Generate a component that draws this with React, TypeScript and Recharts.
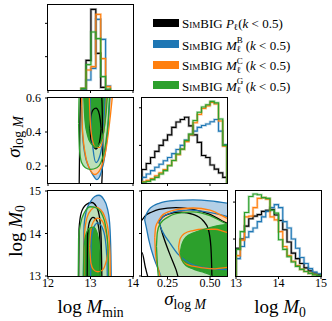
import { ComposedChart, Area, Line, XAxis, YAxis } from "recharts";

const SERIF = '"Liberation Serif", "DejaVu Serif", serif';
const BLACK = "#000000";
const BLUE = "#1f77b4";
const ORANGE = "#ff7f0e";
const GREEN = "#2ca02c";
const BLUE_LIGHT = "#b3cfe6";
const ORANGE_LIGHT = "#ffd0a8";
const GREEN_LIGHT = "#bde0b9";

// grid of panels (px)
const S = 85;
const COLS = [48, 142, 236];
const ROWS = [5, 98, 191];
const ML = 40;
const MT = 8;
const MR = 14;
const MB = 24;

// ticks
const mminTicks = [12, 13, 14];
const sigmaTicks = [0.25, 0.5];
const sigmaYTicks = [0.2, 0.4, 0.6];
const m0Ticks = [13, 14, 15];
const histTicks = [1, 2];

// 1D histograms: log Mmin
const mminEdges = [12.78, 12.895, 13.01, 13.125, 13.24, 13.355, 13.47];
const mminBlack = [0, 0.89, 2.42, 1.1, 0.08, 0];
const mminBlue = [0.02, 0.3, 0.65, 2.12, 1.52, 0.12];
const mminOrange = [0.05, 0.6, 0.7, 2.27, 0.94, 0.1];
const mminGreen = [0.05, 0.76, 1.74, 1.54, 0.4, 0.03];

// 1D histograms: sigma_logM
const sigmaEdges = [0.1, 0.125, 0.15, 0.175, 0.2, 0.225, 0.25, 0.275, 0.3, 0.325, 0.35, 0.375, 0.4, 0.425, 0.45, 0.475, 0.5, 0.525, 0.55, 0.575, 0.6];
const sigmaBlack = [0.36, 0.52, 0.68, 0.84, 1.0, 1.14, 1.28, 1.48, 1.62, 1.69, 1.75, 1.52, 1.28, 1.08, 0.73, 0.68, 0.48, 0.37, 0.27, 0.15];
const sigmaBlue = [0.15, 0.24, 0.33, 0.42, 0.5, 0.59, 0.68, 0.78, 0.89, 1.0, 1.14, 1.28, 1.38, 1.48, 1.53, 1.57, 1.63, 1.69, 1.38, 1.02];
const sigmaOrange = [0.04, 0.07, 0.12, 0.19, 0.27, 0.36, 0.47, 0.6, 0.75, 0.9, 1.1, 1.28, 1.6, 1.82, 1.98, 2.05, 2.14, 2.1, 1.65, 0.98];
const sigmaGreen = [0.02, 0.04, 0.09, 0.15, 0.24, 0.33, 0.46, 0.6, 0.77, 0.9, 1.13, 1.3, 1.66, 1.88, 2.02, 2.08, 2.17, 2.13, 1.7, 1.0];

// 1D histograms: log M0
const m0Edges = [13, 13.1, 13.2, 13.3, 13.4, 13.5, 13.6, 13.7, 13.8, 13.9, 14, 14.1, 14.2, 14.3, 14.4, 14.5, 14.6, 14.7, 14.8, 14.9, 15];
const m0Black = [0.75, 1.0, 1.35, 1.55, 1.62, 1.66, 1.75, 1.78, 1.8, 1.65, 1.5, 1.25, 0.92, 0.62, 0.47, 0.34, 0.22, 0.14, 0.08, 0.04];
const m0Blue = [0.47, 0.8, 1.05, 1.2, 1.3, 1.47, 1.6, 1.75, 1.85, 1.93, 1.85, 1.47, 1.3, 1.0, 0.75, 0.5, 0.34, 0.2, 0.11, 0.06];
const m0Orange = [0.55, 0.97, 1.6, 1.62, 1.85, 2.1, 2.12, 2.08, 1.6, 1.52, 1.2, 0.8, 0.55, 0.4, 0.28, 0.18, 0.12, 0.07, 0.04, 0.01];
const m0Green = [0.72, 1.2, 1.72, 2.15, 2.22, 2.2, 2.12, 2.1, 1.78, 1.7, 0.98, 0.72, 0.52, 0.38, 0.26, 0.18, 0.12, 0.07, 0.03, 0.01];

type Pt = [number, number, number]; // x, low edge, high edge

// contours: sigma_logM vs log Mmin
const sigMminBlackOuter: Pt[] = [[12.73, 0.0, 0.0], [12.75, 0.0, 0.45], [12.79, 0.0, 0.7], [12.9, 0.0, 0.7], [13.1, 0.0, 0.7], [13.22, 0.0, 0.7], [13.27, 0.12, 0.58], [13.29, 0.3, 0.3]];
const sigMminBlackInner: Pt[] = [[12.99, 0.42, 0.42], [13.01, 0.36, 0.49], [13.06, 0.32, 0.53], [13.13, 0.3, 0.54], [13.19, 0.32, 0.52], [13.23, 0.37, 0.47], [13.25, 0.42, 0.42]];
const sigMminBlueOuter: Pt[] = [[12.79, 0.55, 0.55], [12.81, 0.4, 0.7], [12.86, 0.28, 0.7], [12.95, 0.2, 0.7], [13.05, 0.15, 0.7], [13.15, 0.12, 0.7], [13.25, 0.16, 0.7], [13.35, 0.28, 0.7], [13.42, 0.45, 0.7], [13.46, 0.62, 0.62]];
const sigMminBlueInner: Pt[] = [[12.99, 0.62, 0.62], [13.01, 0.45, 0.7], [13.06, 0.3, 0.7], [13.13, 0.22, 0.7], [13.22, 0.26, 0.7], [13.3, 0.38, 0.7], [13.35, 0.62, 0.62]];
const sigMminOrangeOuter: Pt[] = [[12.79, 0.62, 0.62], [12.81, 0.42, 0.7], [12.87, 0.28, 0.7], [12.97, 0.19, 0.7], [13.1, 0.15, 0.7], [13.25, 0.19, 0.7], [13.38, 0.32, 0.7], [13.47, 0.5, 0.7], [13.52, 0.62, 0.62]];
const sigMminOrangeInner: Pt[] = [[12.97, 0.62, 0.62], [12.99, 0.48, 0.7], [13.04, 0.36, 0.7], [13.12, 0.31, 0.7], [13.22, 0.31, 0.7], [13.31, 0.4, 0.7], [13.36, 0.52, 0.7], [13.38, 0.62, 0.62]];
const sigMminGreenOuter: Pt[] = [[12.72, 0.45, 0.45], [12.74, 0.3, 0.7], [12.79, 0.22, 0.7], [12.88, 0.19, 0.7], [13.0, 0.18, 0.7], [13.15, 0.19, 0.7], [13.26, 0.23, 0.7], [13.35, 0.32, 0.7], [13.42, 0.48, 0.7], [13.45, 0.62, 0.62]];
const sigMminGreenInner: Pt[] = [[12.84, 0.62, 0.62], [12.87, 0.47, 0.7], [12.93, 0.38, 0.7], [13.02, 0.33, 0.7], [13.12, 0.31, 0.7], [13.22, 0.33, 0.7], [13.31, 0.4, 0.7], [13.37, 0.52, 0.7], [13.4, 0.62, 0.62]];

// contours: log M0 vs log Mmin
const m0MminBlackOuter: Pt[] = [[12.72, 12.8, 12.8], [12.73, 12.8, 14.1], [12.78, 12.8, 14.48], [12.9, 12.8, 14.68], [13.03, 12.8, 14.73], [13.14, 12.8, 14.63], [13.21, 12.8, 14.4], [13.25, 12.8, 13.9], [13.27, 12.8, 12.8]];
const m0MminBlackInner: Pt[] = [[12.92, 12.8, 12.8], [12.93, 12.8, 13.95], [12.98, 12.8, 14.28], [13.06, 12.8, 14.38], [13.15, 12.8, 14.3], [13.21, 12.8, 14.0], [13.23, 12.8, 13.5], [13.24, 12.8, 12.8]];
const m0MminBlueOuter: Pt[] = [[12.83, 12.8, 12.8], [12.85, 12.8, 14.2], [12.9, 12.8, 14.52], [13.0, 12.8, 14.75], [13.1, 12.8, 14.87], [13.2, 12.8, 14.9], [13.3, 12.8, 14.82], [13.4, 12.8, 14.58], [13.45, 12.8, 14.25], [13.48, 12.8, 13.5], [13.49, 12.8, 12.8]];
const m0MminBlueInner: Pt[] = [[13.0, 12.8, 12.8], [13.02, 12.8, 13.9], [13.08, 12.8, 14.15], [13.17, 12.8, 14.25], [13.27, 12.8, 14.15], [13.35, 12.8, 13.85], [13.39, 12.8, 13.3], [13.4, 12.8, 12.8]];
const m0MminOrangeOuter: Pt[] = [[12.84, 12.8, 12.8], [12.86, 12.8, 14.0], [12.92, 12.8, 14.38], [13.02, 12.8, 14.56], [13.12, 12.8, 14.62], [13.24, 12.8, 14.56], [13.34, 12.8, 14.38], [13.42, 12.8, 14.05], [13.46, 12.8, 13.5], [13.47, 12.8, 12.8]];
const m0MminOrangeInner: Pt[] = [[12.98, 13.7, 13.7], [13.01, 13.3, 14.1], [13.07, 13.15, 14.28], [13.17, 13.1, 14.36], [13.27, 13.13, 14.3], [13.35, 13.28, 14.08], [13.4, 13.5, 13.8], [13.41, 13.65, 13.65]];
const m0MminGreenOuter: Pt[] = [[12.71, 12.8, 12.8], [12.72, 12.8, 13.9], [12.77, 12.8, 14.25], [12.86, 12.8, 14.5], [13.0, 12.8, 14.63], [13.14, 12.8, 14.6], [13.27, 12.8, 14.45], [13.36, 12.8, 14.15], [13.41, 12.8, 13.7], [13.43, 12.8, 12.8]];
const m0MminGreenInner: Pt[] = [[12.83, 12.8, 12.8], [12.85, 12.8, 13.7], [12.9, 12.8, 14.0], [12.98, 12.8, 14.13], [13.07, 12.8, 14.15], [13.16, 12.8, 14.0], [13.22, 12.8, 13.6], [13.24, 12.8, 12.8]];

// contours: log M0 vs sigma_logM
const m0SigBlackOuter: Pt[] = [[0.08, 13.55, 14.28], [0.1, 13.55, 14.32], [0.12, 13.2, 14.42], [0.155, 12.8, 14.5], [0.2, 12.8, 14.57], [0.3, 12.8, 14.61], [0.4, 12.8, 14.57], [0.5, 12.8, 14.45], [0.57, 12.8, 14.3], [0.62, 12.8, 14.2]];
const m0SigBlackInner: Pt[] = [[0.2, 14.28, 14.28], [0.22, 14.0, 14.38], [0.26, 13.55, 14.46], [0.3, 13.15, 14.5], [0.33, 12.8, 14.5], [0.4, 12.8, 14.45], [0.46, 12.8, 14.3], [0.49, 12.8, 14.1], [0.505, 12.8, 13.7], [0.51, 12.8, 13.2], [0.512, 12.8, 12.8]];
const m0SigBlueOuter: Pt[] = [[0.115, 14.33, 14.33], [0.125, 14.15, 14.45], [0.14, 13.85, 14.56], [0.17, 13.42, 14.66], [0.2, 13.12, 14.71], [0.235, 12.8, 14.75], [0.3, 12.8, 14.78], [0.4, 12.8, 14.79], [0.5, 12.8, 14.77], [0.62, 12.8, 14.7]];
const m0SigBlueInner: Pt[] = [[0.2, 14.25, 14.25], [0.22, 14.05, 14.38], [0.26, 13.8, 14.47], [0.31, 13.52, 14.53], [0.38, 13.3, 14.55], [0.46, 13.2, 14.52], [0.54, 13.16, 14.46], [0.62, 13.15, 14.38]];
const m0SigOrangeOuter: Pt[] = [[0.175, 13.9, 13.9], [0.18, 13.5, 14.15], [0.2, 13.1, 14.32], [0.225, 12.8, 14.45], [0.3, 12.8, 14.56], [0.4, 12.8, 14.6], [0.5, 12.8, 14.55], [0.57, 12.8, 14.42], [0.62, 12.8, 14.32]];
const m0SigOrangeInner: Pt[] = [[0.315, 13.68, 13.68], [0.325, 13.45, 13.88], [0.35, 13.3, 14.0], [0.4, 13.23, 14.07], [0.46, 13.19, 14.1], [0.53, 13.17, 14.1], [0.58, 13.19, 14.05], [0.62, 13.22, 14.0]];
const m0SigGreenOuter: Pt[] = [[0.185, 13.7, 13.7], [0.19, 13.3, 14.02], [0.205, 12.8, 14.22], [0.25, 12.8, 14.38], [0.3, 12.8, 14.47], [0.4, 12.8, 14.51], [0.5, 12.8, 14.42], [0.57, 12.8, 14.28], [0.62, 12.8, 14.18]];
const m0SigGreenInner: Pt[] = [[0.325, 13.55, 13.55], [0.335, 13.38, 13.75], [0.36, 13.24, 13.92], [0.4, 13.17, 14.01], [0.45, 13.1, 14.08], [0.5, 13.03, 14.14], [0.54, 12.8, 14.18], [0.62, 12.8, 14.22]];

function contourRows(series: Record<string, Pt[]>) {
  const xs = Array.from(new Set(Object.values(series).flatMap((c) => c.map((p) => p[0])))).sort((a, b) => a - b);
  return xs.map((x) => {
    const row: Record<string, unknown> = { x };
    Object.entries(series).forEach(([k, c]) => {
      const p = c.find((q) => q[0] === x);
      row[k] = p ? [p[1], p[2]] : null;
    });
    return row;
  });
}

function histRows(edges: number[], series: Record<string, number[]>) {
  const keys = Object.keys(series);
  const n = edges.length - 1;
  const row = (x: number, f: (k: string) => number) =>
    Object.fromEntries([["x", x], ...keys.map((k) => [k, f(k)])]);
  return [
    row(edges[0], () => 0),
    ...edges.slice(0, n).map((e, i) => row(e, (k) => series[k][i])),
    row(edges[n], (k) => series[k][n - 1]),
    row(edges[n], () => 0),
  ];
}

const mminHist = histRows(mminEdges, { k: mminBlack, b: mminBlue, o: mminOrange, g: mminGreen });
const sigmaHist = histRows(sigmaEdges, { k: sigmaBlack, b: sigmaBlue, o: sigmaOrange, g: sigmaGreen });
const m0Hist = histRows(m0Edges, { k: m0Black, b: m0Blue, o: m0Orange, g: m0Green });

const sigMminData = contourRows({
  ko: sigMminBlackOuter, ki: sigMminBlackInner, bo: sigMminBlueOuter, bi: sigMminBlueInner,
  oo: sigMminOrangeOuter, oi: sigMminOrangeInner, go: sigMminGreenOuter, gi: sigMminGreenInner,
});
const m0MminData = contourRows({
  ko: m0MminBlackOuter, ki: m0MminBlackInner, bo: m0MminBlueOuter, bi: m0MminBlueInner,
  oo: m0MminOrangeOuter, oi: m0MminOrangeInner, go: m0MminGreenOuter, gi: m0MminGreenInner,
});
const m0SigData = contourRows({
  ko: m0SigBlackOuter, ki: m0SigBlackInner, bo: m0SigBlueOuter, bi: m0SigBlueInner,
  oo: m0SigOrangeOuter, oi: m0SigOrangeInner, go: m0SigGreenOuter, gi: m0SigGreenInner,
});

const contourFill = (key: string, color: string) => (
  <Area key={`f-${key}`} dataKey={key} type="monotone" fill={color} fillOpacity={1} stroke="none"
    connectNulls dot={false} activeDot={false} isAnimationActive={false} />
);
const contourLine = (key: string, color: string) => (
  <Area key={`l-${key}`} dataKey={key} type="monotone" fill="none" stroke={color} strokeWidth={1.3}
    connectNulls dot={false} activeDot={false} isAnimationActive={false} />
);
const contourLayers = [
  contourFill("bo", BLUE_LIGHT), contourFill("bi", BLUE_LIGHT),
  contourFill("oo", ORANGE_LIGHT), contourFill("oi", ORANGE_LIGHT),
  contourFill("go", GREEN_LIGHT), contourFill("gi", GREEN),
  contourLine("ko", BLACK), contourLine("ki", BLACK),
  contourLine("bo", BLUE), contourLine("bi", BLUE),
  contourLine("oo", ORANGE), contourLine("oi", ORANGE),
  contourLine("go", GREEN), contourLine("gi", GREEN),
];

const histLine = (key: string, color: string) => [
  <Line key={`h-${key}`} dataKey={key} type="stepAfter" stroke={color} strokeOpacity={0.3} strokeWidth={2.6}
    dot={false} activeDot={false} isAnimationActive={false} />,
  <Line key={`s-${key}`} dataKey={key} type="stepAfter" stroke={color} strokeWidth={1.1}
    dot={false} activeDot={false} isAnimationActive={false} />,
];
const histLayers = [...histLine("k", BLACK), ...histLine("b", BLUE), ...histLine("o", ORANGE), ...histLine("g", GREEN)];

type PanelProps = {
  col: number;
  row: number;
  data: Record<string, unknown>[];
  xDomain: [number, number];
  yDomain: [number, number];
  xTicks: number[];
  yTicks: number[];
  xFmt?: (v: number) => string;
  yFmt?: (v: number) => string;
  children: React.ReactNode;
};

function Panel({ col, row, data, xDomain, yDomain, xTicks, yTicks, xFmt, yFmt, children }: PanelProps) {
  const xTick = (p: any) =>
    xFmt ? (
      <text x={p.x} y={p.y + 7.5} textAnchor="middle" fontSize={12} fontFamily={SERIF} fill="#000">
        {xFmt(p.payload.value)}
      </text>
    ) : (
      <g />
    );
  const yTick = (p: any) =>
    yFmt ? (
      <text x={p.x} y={p.y} dy="0.36em" textAnchor="end" fontSize={12} fontFamily={SERIF} fill="#000">
        {yFmt(p.payload.value)}
      </text>
    ) : (
      <g />
    );
  return (
    <div style={{ position: "absolute", left: COLS[col] - ML, top: ROWS[row] - MT }}>
      <ComposedChart width={ML + S + MR} height={MT + S + MB} data={data}
        margin={{ top: MT, right: MR, bottom: 0, left: 0 }}>
        <XAxis type="number" dataKey="x" domain={xDomain} ticks={xTicks} interval={0} allowDataOverflow
          height={MB} axisLine={false} tickLine={{ stroke: "#000", strokeWidth: 1 }} tickSize={3} tickMargin={0}
          tick={xTick} />
        <YAxis type="number" domain={yDomain} ticks={yTicks} interval={0} allowDataOverflow width={ML}
          axisLine={false} tickLine={{ stroke: "#000", strokeWidth: 1 }} tickSize={3} tickMargin={4} tick={yTick} />
        {children}
      </ComposedChart>
      <div style={{
        position: "absolute", left: ML - 0.65, top: MT - 0.65, width: S + 1.3, height: S + 1.3,
        border: "1.3px solid #000", boxSizing: "border-box", pointerEvents: "none",
      }} />
    </div>
  );
}

const intFmt = (v: number) => String(v);
const sigXFmt = (v: number) => v.toFixed(2);
const sigYFmt = (v: number) => v.toFixed(1);

const subStyle = { fontSize: "0.7em", verticalAlign: "-0.25em", lineHeight: 0 } as const;

function Stack({ sup, sub }: { sup: string; sub: string }) {
  return (
    <span style={{ display: "inline-block", position: "relative", width: 9, height: 13 }}>
      <span style={{ position: "absolute", left: 0, top: -0.5, fontSize: 9, lineHeight: 1 }}>{sup}</span>
      <span style={{ position: "absolute", left: 0, top: 8.5, fontSize: 9, lineHeight: 1 }}>{sub}</span>
    </span>
  );
}

const legendRows = [
  { color: BLACK, sym: "P", sup: "" },
  { color: BLUE, sym: "M", sup: "B" },
  { color: ORANGE, sym: "M", sup: "C" },
  { color: GREEN, sym: "M", sup: "G" },
];

function LegendBox() {
  return (
    <>
      {legendRows.map((r, i) => (
        <div key={i} style={{ position: "absolute", left: 153, top: 19.3 + i * 20.7, height: 8, display: "flex", alignItems: "center" }}>
          <div style={{ width: 26, height: 8, background: r.color }} />
          <span style={{ marginLeft: 3, fontSize: 13, lineHeight: 1, whiteSpace: "nowrap", fontFamily: SERIF }}>
            <span style={{ fontVariant: "small-caps" }}>SimBIG</span>{" "}
            <i>{r.sym}</i>
            {r.sup ? <Stack sup={r.sup} sub="ℓ" /> : <span style={subStyle}>ℓ</span>}
            (<i>k</i> &lt; 0.5)
          </span>
        </div>
      ))}
    </>
  );
}

const titleStyle = { position: "absolute", fontSize: 19, lineHeight: 1, whiteSpace: "nowrap", fontFamily: SERIF } as const;
const tSub = { fontSize: "0.72em", verticalAlign: "-0.28em", lineHeight: 0 } as const;

function AxisTitles() {
  return (
    <>
      <div style={{ ...titleStyle, left: 90.5, top: 296.7, transform: "translateX(-50%)" }}>
        log <i>M</i><span style={tSub}>min</span>
      </div>
      <div style={{ ...titleStyle, left: 185, top: 289.2, transform: "translateX(-50%)" }}>
        <i>σ</i><span style={tSub}>log <i>M</i></span>
      </div>
      <div style={{ ...titleStyle, left: 280, top: 296.7, transform: "translateX(-50%)" }}>
        log <i>M</i><span style={tSub}>0</span>
      </div>
      <div style={{ ...titleStyle, left: 13, top: 137, transform: "translate(-50%, -50%) rotate(-90deg)" }}>
        <i>σ</i><span style={tSub}>log <i>M</i></span>
      </div>
      <div style={{ ...titleStyle, left: 15, top: 231, transform: "translate(-50%, -50%) rotate(-90deg)" }}>
        log <i>M</i><span style={tSub}>0</span>
      </div>
    </>
  );
}

export default function App() {
  return (
    <div style={{ position: "absolute", left: 0, top: 0, width: 332, height: 321, background: "#fff", overflow: "hidden" }}>
      <Panel col={0} row={0} data={mminHist} xDomain={[12, 14]} yDomain={[0, 2.55]} xTicks={mminTicks} yTicks={histTicks}>
        {histLayers}
      </Panel>
      <Panel col={0} row={1} data={sigMminData} xDomain={[12, 14]} yDomain={[0.1, 0.6]} xTicks={mminTicks}
        yTicks={sigmaYTicks} yFmt={sigYFmt}>
        {contourLayers}
      </Panel>
      <Panel col={1} row={1} data={sigmaHist} xDomain={[0.1, 0.6]} yDomain={[0, 2.26]} xTicks={sigmaTicks} yTicks={histTicks}>
        {histLayers}
      </Panel>
      <Panel col={0} row={2} data={m0MminData} xDomain={[12, 14]} yDomain={[13, 15]} xTicks={mminTicks}
        yTicks={m0Ticks} xFmt={intFmt} yFmt={intFmt}>
        {contourLayers}
      </Panel>
      <Panel col={1} row={2} data={m0SigData} xDomain={[0.1, 0.6]} yDomain={[13, 15]} xTicks={sigmaTicks}
        yTicks={m0Ticks} xFmt={sigXFmt}>
        {contourLayers}
      </Panel>
      <Panel col={2} row={2} data={m0Hist} xDomain={[13, 15]} yDomain={[0, 2.3]} xTicks={m0Ticks} yTicks={histTicks}
        xFmt={intFmt}>
        {histLayers}
      </Panel>
      <LegendBox />
      <AxisTitles />
    </div>
  );
}
